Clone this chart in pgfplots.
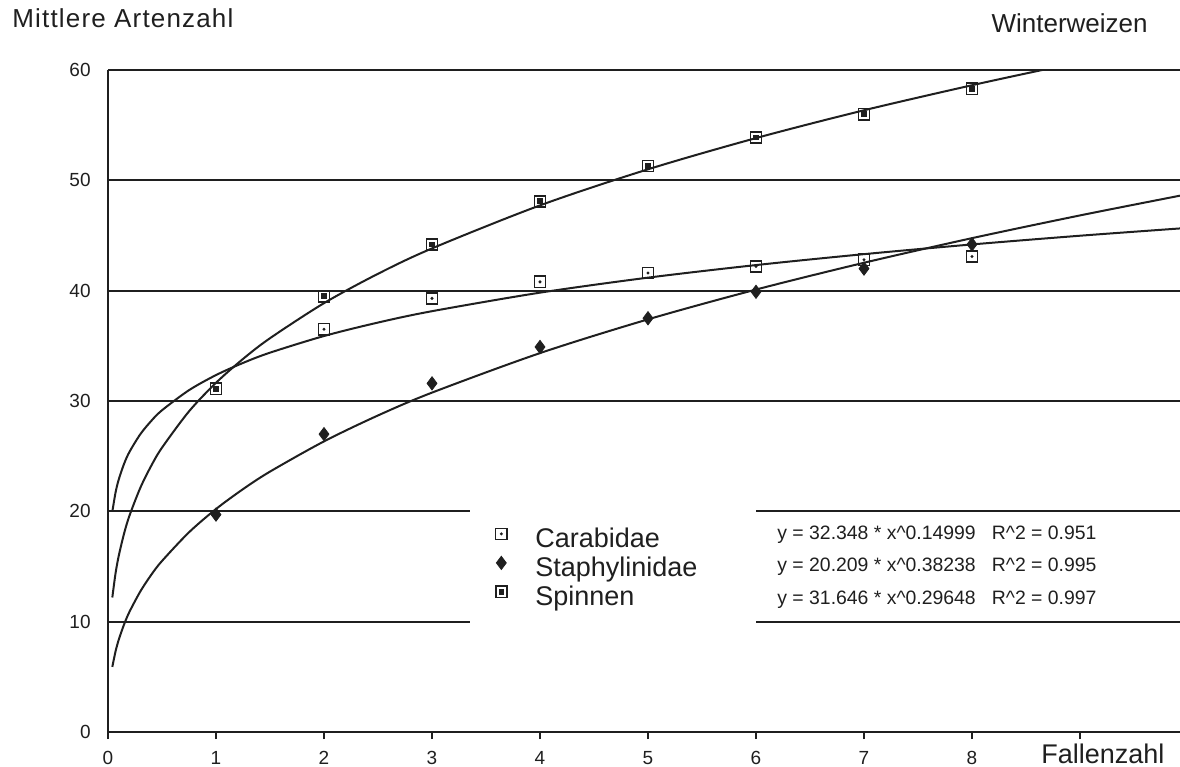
\documentclass[border=0pt]{standalone}
\usepackage{fontspec}
\setmainfont{Liberation Sans}
\newfontfamily\spaced[LetterSpace=4.5]{Liberation Sans}
\usepackage{pgfplots}
\pgfplotsset{compat=1.18}

\colorlet{ink}{black!88}

% open square with a dot (Carabidae), square with filled core (Spinnen)
\pgfdeclareplotmark{carab}{%
  \pgfpathrectangle{\pgfpoint{-\pgfplotmarksize}{-\pgfplotmarksize}}{\pgfpoint{2\pgfplotmarksize}{2\pgfplotmarksize}}%
  \pgfusepathqstroke
  \pgfpathcircle{\pgfpointorigin}{0.3\pgfplotmarksize}%
  \pgfusepathqfill}
\pgfdeclareplotmark{spinn}{%
  \pgfpathrectangle{\pgfpoint{-\pgfplotmarksize}{-\pgfplotmarksize}}{\pgfpoint{2\pgfplotmarksize}{2\pgfplotmarksize}}%
  \pgfusepathqstroke
  \pgfpathrectangle{\pgfpoint{-0.5\pgfplotmarksize}{-0.5\pgfplotmarksize}}{\pgfpoint{\pgfplotmarksize}{\pgfplotmarksize}}%
  \pgfusepathqfill}

\begin{document}
\begin{tikzpicture}
\begin{axis}[
    at={(0,0)}, anchor=south west,
    scale only axis, width=536bp, height=331bp,
    xmin=0, xmax=9.926, ymin=0, ymax=60,
    clip=false,
    axis x line*=bottom, axis y line*=left,
    axis line style={ink, line width=0.9bp},
    xtick={0,...,9}, xticklabels={0,1,2,3,4,5,6,7,8,{}},
    ytick={0,10,...,60},
    tick align=outside, major tick length=3.5bp,
    xtick style={ink, line width=0.8bp},
    ytick style={draw=none},
    tick label style={font=\fontsize{9.5bp}{11bp}\selectfont, ink},
    /pgf/number format/assume math mode=true,
    yticklabel style={inner sep=0pt, xshift=-5bp},
    xticklabel style={inner sep=0pt, yshift=-6bp},
    legend style={at={(axis description cs:0.3535,0.3172)}, anchor=north west,
        draw=none, fill=none, font=\fontsize{13.5bp}{16bp}\selectfont, text=ink,
        nodes={inner sep=0pt, text height=10.5bp, text depth=4bp},
        row sep=0pt},
    legend cell align=left,
    legend image code/.code={\path[draw=none, fill=none] (0bp,3.5bp) -- (21bp,3.5bp);
        \draw[#1] plot coordinates {(4bp,3.5bp)};},
]

% grid lines, broken where the legend sits
\draw[ink, line width=0.9bp] (axis cs:0,10) -- (axis cs:3.352,10);
\draw[ink, line width=0.9bp] (axis cs:6.0,10) -- (axis cs:9.926,10);
\draw[ink, line width=0.9bp] (axis cs:0,20) -- (axis cs:3.352,20);
\draw[ink, line width=0.9bp] (axis cs:6.0,20) -- (axis cs:9.926,20);
\draw[ink, line width=0.9bp] (axis cs:0,30) -- (axis cs:9.926,30);
\draw[ink, line width=0.9bp] (axis cs:0,40) -- (axis cs:9.926,40);
\draw[ink, line width=0.9bp] (axis cs:0,50) -- (axis cs:9.926,50);
\draw[ink, line width=0.9bp] (axis cs:0,60) -- (axis cs:9.926,60);

% fitted curves
\addplot[ink, line width=1bp, smooth, forget plot] coordinates {
 (0.04,19.96) (0.07,21.71) (0.1,22.90) (0.15,24.34) (0.2,25.41) (0.3,27.00)
 (0.4,28.19) (0.5,29.16) (0.75,30.98) (1,32.35) (1.25,33.45) (1.5,34.38)
 (2,35.89) (2.5,37.11) (3,38.14) (4,39.82) (5,41.18) (6,42.32) (7,43.31)
 (8,44.19) (9,44.98) (9.926,45.64)};
\addplot[ink, line width=1bp, smooth, forget plot] coordinates {
 (0.04,5.90) (0.07,7.31) (0.1,8.38) (0.15,9.78) (0.2,10.92) (0.3,12.75)
 (0.4,14.24) (0.5,15.50) (0.75,18.10) (1,20.21) (1.25,22.01) (1.5,23.60)
 (2,26.34) (2.5,28.69) (3,30.76) (4,34.34) (5,37.40) (6,40.10) (7,42.53)
 (8,44.76) (9,46.82) (9.926,48.61)};
\addplot[ink, line width=1bp, smooth, forget plot] coordinates {
 (0.04,12.19) (0.07,14.39) (0.1,15.99) (0.15,18.03) (0.2,19.64) (0.3,22.15)
 (0.4,24.12) (0.5,25.77) (0.75,29.06) (1,31.65) (1.25,33.81) (1.5,35.69)
 (2,38.87) (2.5,41.53) (3,43.83) (4,47.73) (5,51.00) (6,53.83) (7,56.35)
 (8,58.62) (8.65,60.0)};

% observed means
\addplot[only marks, mark=carab, mark size=2.8bp, mark options={ink, fill=ink, line width=0.75bp}] coordinates {
 (1,31.1) (2,36.5) (3,39.3) (4,40.8) (5,41.6) (6,42.2) (7,42.8) (8,43.1)};
\addlegendentry{Carabidae}
\addplot[only marks, mark=diamond*, mark size=3.3bp, mark options={ink, fill=ink}] coordinates {
 (1,19.7) (2,27.0) (3,31.6) (4,34.9) (5,37.5) (6,39.9) (7,42.0) (8,44.2)};
\addlegendentry{Staphylinidae}
\addplot[only marks, mark=spinn, mark size=2.8bp, mark options={ink, fill=ink, line width=0.85bp}] coordinates {
 (1,31.1) (2,39.5) (3,44.2) (4,48.1) (5,51.3) (6,53.9) (7,56.0) (8,58.3)};
\addlegendentry{Spinnen}
\end{axis}

% texts around the axis, in bp from the axis origin
\begin{scope}[every node/.style={inner sep=0pt, text=ink}]
\node[anchor=base west, font=\spaced\fontsize{13bp}{15bp}\selectfont] at (-48bp,352bp) {Mittlere Artenzahl};
\node[anchor=base east, font=\fontsize{13bp}{15bp}\selectfont] at (520bp,349.5bp) {Winterweizen};
\node[anchor=base west, font=\fontsize{13.5bp}{15bp}\selectfont] at (466.5bp,-15.5bp) {Fallenzahl};
\node[anchor=base west, font=\fontsize{9.7bp}{11bp}\selectfont] at (334.5bp,96bp) {y = 32.348 * x\^{}0.14999\ \ \ R\^{}2 = 0.951};
\node[anchor=base west, font=\fontsize{9.7bp}{11bp}\selectfont] at (334.5bp,80bp) {y = 20.209 * x\^{}0.38238\ \ \ R\^{}2 = 0.995};
\node[anchor=base west, font=\fontsize{9.7bp}{11bp}\selectfont] at (334.5bp,63.5bp) {y = 31.646 * x\^{}0.29648\ \ \ R\^{}2 = 0.997};
\end{scope}

\pgfresetboundingbox
\useasboundingbox (-54bp,-17.5bp) rectangle (536bp,366bp);
\end{tikzpicture}
\end{document}
